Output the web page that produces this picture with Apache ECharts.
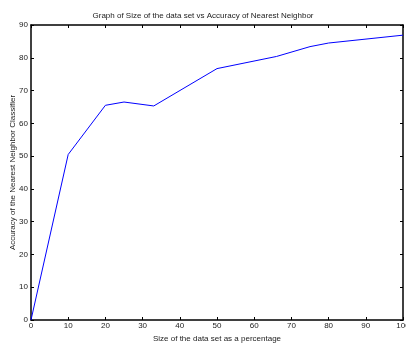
<!DOCTYPE html>
<html>
<head>
<meta charset="utf-8">
<script src="https://cdn.jsdelivr.net/npm/echarts@6/dist/echarts.min.js"></script>
<style>
  html, body { margin: 0; padding: 0; background: #fff; }
  #main { width: 406px; height: 343px; }
</style>
</head>
<body>
<div id="main"></div>
<script>
// 数据
var sizes = [0, 10, 20, 25, 33, 50, 66, 75, 80, 100];
var accuracy = [0, 50.5, 65.5, 66.5, 65.3, 76.7, 80.4, 83.4, 84.5, 86.9];

var myChart = echarts.init(document.getElementById('main'));
var font = 'Liberation Sans';

var mirrorAxis = {
    show: true,
    axisLine: { show: true, onZero: false, lineStyle: { color: '#000', width: 1.5 } },
    axisTick: { show: true, inside: true, length: 3, lineStyle: { color: '#000' } },
    axisLabel: { show: false },
    splitLine: { show: false }
};

var option = {
    animation: false,
    title: {
        text: 'Graph of Size of the data set vs Accuracy of Nearest Neighbor',
        left: 'center',
        top: 7,
        textStyle: { fontFamily: font, fontSize: 8, fontWeight: 'normal', color: '#222' }
    },
    grid: { left: 31, right: 3, top: 25, bottom: 23, outerBoundsMode: 'none', containLabel: false },
    xAxis: [
        {
            type: 'value', min: 0, max: 100, interval: 10,
            name: 'Size of the data set as a percentage',
            nameLocation: 'middle', nameGap: 15, nameMoveOverlap: false,
            nameTextStyle: { fontFamily: font, fontSize: 8, color: '#222' },
            axisLine: { onZero: false, lineStyle: { color: '#000', width: 1.5 } },
            axisTick: { inside: true, length: 3, lineStyle: { color: '#000' } },
            axisLabel: { fontFamily: font, fontSize: 8, color: '#222', margin: 2 },
            splitLine: { show: false }
        },
        Object.assign({ type: 'value', position: 'top', min: 0, max: 100, interval: 10 }, mirrorAxis)
    ],
    yAxis: [
        {
            type: 'value', min: 0, max: 90, interval: 10,
            name: 'Accuracy of the Nearest Neighbor Classifier',
            nameLocation: 'middle', nameGap: 14, nameMoveOverlap: false,
            nameTextStyle: { fontFamily: font, fontSize: 8, color: '#222' },
            axisLine: { show: true, onZero: false, lineStyle: { color: '#000', width: 1.5 } },
            axisTick: { show: true, inside: true, length: 3, lineStyle: { color: '#000' } },
            axisLabel: { fontFamily: font, fontSize: 8, color: '#222', margin: 3 },
            splitLine: { show: false }
        },
        Object.assign({ type: 'value', position: 'right', min: 0, max: 90, interval: 10 }, mirrorAxis)
    ],
    series: [
        {
            type: 'line',
            data: sizes.map(function (s, i) { return [s, accuracy[i]]; }),
            showSymbol: false,
            lineStyle: { color: '#0000ff', width: 1 },
            itemStyle: { color: '#0000ff' }
        }
    ]
};

myChart.setOption(option);
</script>
</body>
</html>
